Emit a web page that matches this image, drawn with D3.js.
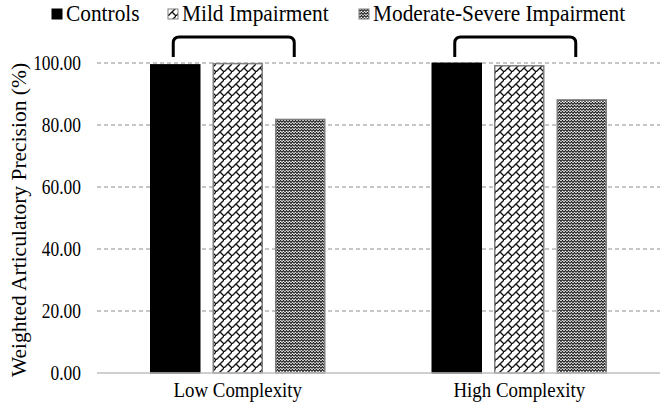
<!DOCTYPE html>
<html><head><meta charset="utf-8">
<script src="https://cdn.jsdelivr.net/npm/d3@7"></script>
<style>html,body{margin:0;padding:0;background:#fff;}svg{display:block;}</style>
</head><body>
<script>
const categories = ["Low Complexity", "High Complexity"];
const seriesNames = ["Controls", "Mild Impairment", "Moderate-Severe Impairment"];
const controls = [99.4, 99.9];
const mild = [99.8, 99.1];
const moderate = [81.8, 88.1];
const yTicks = [0, 20, 40, 60, 80, 100];
const yLabel = "Weighted Articulatory Precision (%)";

const W = 663, H = 408;
const FONT = "'Liberation Serif','Times New Roman',serif";
const svg = d3.select("body").append("svg").attr("width", W).attr("height", H);
const defs = svg.append("defs");

// patterns
const p1 = defs.append("pattern").attr("id","pMild").attr("patternUnits","userSpaceOnUse")
  .attr("width",8).attr("height",8);
p1.append("rect").attr("width",8).attr("height",8).attr("fill","#fff");
p1.append("path").attr("d","M-1,9 L9,-1 M4,4 L8,8 M-1,7 L1,9 M7,-1 L9,1").attr("stroke","#111").attr("stroke-width",1.3).attr("fill","none");

const p2 = defs.append("pattern").attr("id","pMod").attr("patternUnits","userSpaceOnUse")
  .attr("width",6).attr("height",6);
p2.append("rect").attr("width",6).attr("height",6).attr("fill","#fff");
p2.append("path").attr("d","M0,2.5 L1.5,0.5 L3,2.5 L4.5,0.5 L6,2.5 M0,5.5 L1.5,3.5 L3,5.5 L4.5,3.5 L6,5.5")
  .attr("stroke","#1a1a1a").attr("stroke-width",1.2).attr("fill","none");

const fills = ["#000", "url(#pMild)", "url(#pMod)"];
const strokes = ["#000", "#7f7f7f", "#7f7f7f"];

const plotLeft = 97, plotRight = 660;
const x = d3.scaleBand().domain(categories).range([plotLeft, plotRight]).padding(0);
const xs = d3.scaleBand().domain(seriesNames).range([-87, 87]).paddingInner(0.216).paddingOuter(0);
const y = d3.scaleLinear().domain([0, 100]).range([373, 63]);

function sText(g, tx, ty, str, size, anchor, sx) {
  return g.append("text").attr("transform", `translate(${tx},${ty}) scale(${sx},1)`)
    .attr("font-family", FONT).attr("font-size", size).attr("text-anchor", anchor || "start")
    .attr("fill", "#000").text(str);
}

// gridlines
const grid = svg.append("g");
grid.selectAll("line").data(yTicks.filter(d => d > 0)).join("line")
  .attr("x1", plotLeft).attr("x2", plotRight)
  .attr("y1", d => y(d)).attr("y2", d => y(d))
  .attr("stroke", "#8c8c8c").attr("stroke-width", 1).attr("stroke-dasharray", "4,3");

// y tick labels
const yt = svg.append("g");
yTicks.forEach(t => sText(yt, 81, y(t) + 7, t.toFixed(2), 20, "end", 0.87));

// y label
svg.append("text").attr("transform", `translate(26,220) rotate(-90)`)
  .attr("font-family", FONT).attr("font-size", 21.5).attr("text-anchor", "middle").text(yLabel);

// bars
const seriesData = [controls, mild, moderate];
const barsG = svg.append("g");
seriesNames.forEach((s, si) => {
  barsG.append("g").selectAll("rect").data(categories).join("rect")
    .attr("x", c => x(c) + x.bandwidth() / 2 + xs(s))
    .attr("width", xs.bandwidth())
    .attr("y", (c, i) => y(seriesData[si][i]))
    .attr("height", (c, i) => y(0) - y(seriesData[si][i]))
    .attr("fill", fills[si]).attr("stroke", strokes[si]).attr("stroke-width", 1.5);
});

// x axis line
svg.append("line").attr("x1", plotLeft).attr("x2", plotRight).attr("y1", y(0)).attr("y2", y(0))
  .attr("stroke", "#bfbfbf").attr("stroke-width", 1.5);

// category labels
const xl = svg.append("g");
categories.forEach(c => sText(xl, x(c) + x.bandwidth() / 2, 397, c, 21, "middle", 0.9));

// brackets
const br = svg.append("g");
categories.forEach(c => {
  const cx = x(c) + x.bandwidth() / 2;
  const x1 = cx + xs(seriesNames[0]) + xs.bandwidth() / 2 - 2;
  const x2 = cx + xs(seriesNames[2]) + xs.bandwidth() / 2 - 6;
  const top = 37, bot = 57, r = 6;
  br.append("path").attr("d", `M${x1},${bot} L${x1},${top + r} Q${x1},${top} ${x1 + r},${top} L${x2 - r},${top} Q${x2},${top} ${x2},${top + r} L${x2},${bot}`)
    .attr("fill", "none").attr("stroke", "#000").attr("stroke-width", 3);
});

// legend
const legendX = [52, 168, 359];
const lg = svg.append("g");
seriesNames.forEach((s, i) => {
  lg.append("rect").attr("x", legendX[i]).attr("y", 9).attr("width", 10).attr("height", 10)
    .attr("fill", fills[i]).attr("stroke", strokes[i]).attr("stroke-width", 1);
  sText(lg, legendX[i] + 14, 21, s, 23, "start", 0.93);
});
</script>
</body></html>
